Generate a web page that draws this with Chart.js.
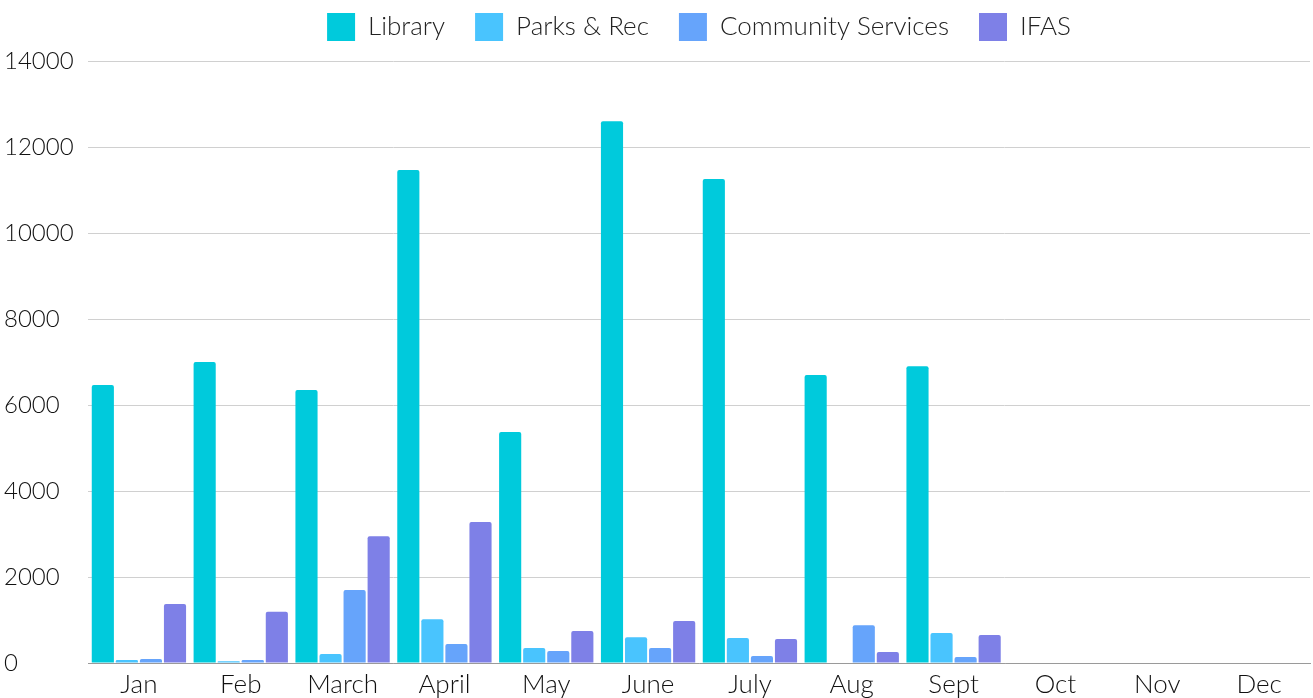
<!DOCTYPE html>
<html>
<head>
<meta charset="utf-8">
<script src="https://cdn.jsdelivr.net/npm/chart.js@4/dist/chart.umd.min.js"></script>
<style>
  html, body { margin: 0; padding: 0; background: #fff; }
  #wrap { width: 1313px; height: 698px; }
</style>
</head>
<body>
<div id="wrap"><canvas id="deptChart"></canvas></div>
<script>
const months = ['Jan', 'Feb', 'March', 'April', 'May', 'June', 'July', 'Aug', 'Sept', 'Oct', 'Nov', 'Dec'];
const library = [6465, 7000, 6350, 11465, 5370, 12600, 11255, 6700, 6900, null, null, null];
const parksRec = [70, 40, 210, 1020, 350, 600, 580, 10, 700, null, null, null];
const communityServices = [95, 70, 1700, 440, 280, 350, 160, 880, 140, null, null, null];
const ifas = [1370, 1190, 2950, 3280, 745, 975, 560, 255, 650, null, null, null];
const yTicks = [0, 2000, 4000, 6000, 8000, 10000, 12000, 14000];

const FONT = 'Lato, "DejaVu Sans", sans-serif';

// a bit more room between the legend and the plot
const legendSpacer = {
    id: 'legendSpacer',
    beforeInit(chart) {
        const fit = chart.legend.fit;
        chart.legend.fit = function () {
            fit.call(this);
            this.height += 10;
        };
    }
};

function series(label, data, color) {
    return {
        label,
        data,
        backgroundColor: color,
        borderWidth: 0,
        borderRadius: 2,
        borderSkipped: 'bottom',
        barPercentage: 0.92,
        categoryPercentage: 0.945
    };
}

new Chart(document.getElementById('deptChart'), {
    type: 'bar',
    data: {
        labels: months,
        datasets: [
            series('Library', library, '#00CADC'),
            series('Parks & Rec', parksRec, '#49C4FE'),
            series('Community Services', communityServices, '#66A4FB'),
            series('IFAS', ifas, '#7E80E7')
        ]
    },
    options: {
        responsive: true,
        maintainAspectRatio: false,
        animation: false,
        layout: { padding: { left: 4, right: 3, top: -17, bottom: -9 } },
        plugins: {
            legend: {
                position: 'top',
                fullSize: false,
                labels: {
                    boxWidth: 28,
                    boxHeight: 28,
                    padding: 30,
                    color: '#222',
                    font: { size: 26, family: FONT, weight: 300 }
                }
            },
            tooltip: { enabled: false }
        },
        scales: {
            x: {
                grid: { display: false, drawTicks: false },
                border: { color: '#9a9a9a', width: 1 },
                ticks: { color: '#111', padding: 9, font: { size: 26, family: FONT, weight: 300, lineHeight: 1 } }
            },
            y: {
                min: 0,
                max: 14000,
                afterBuildTicks: scale => { scale.ticks = yTicks.map(v => ({ value: v })); },
                afterFit: scale => { scale.width = 84; },
                grid: { color: '#d0d0d0', drawTicks: false },
                border: { display: false },
                ticks: {
                    color: '#111',
                    crossAlign: 'far',
                    padding: 12,
                    font: { size: 24, family: FONT, weight: 300 },
                    callback: v => String(v)
                }
            }
        }
    },
    plugins: [legendSpacer]
});
</script>
</body>
</html>
